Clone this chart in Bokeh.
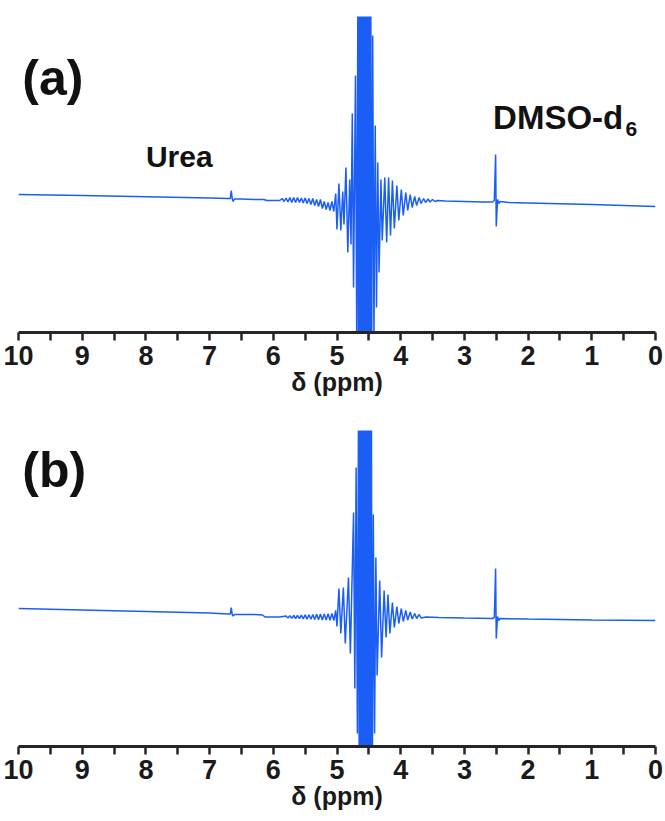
from bokeh.plotting import figure
from bokeh.models import Range1d, FixedTicker, Label
from bokeh.layouts import column
from bokeh.embed import file_html
from bokeh.resources import INLINE

# ---------------- data (chemical shift in ppm, intensity in arbitrary units) ----------------
major_ticks = [0, 1, 2, 3, 4, 5, 6, 7, 8, 9, 10]
minor_ticks = [0.5, 1.5, 2.5, 3.5, 4.5, 5.5, 6.5, 7.5, 8.5, 9.5]
x_title = "δ (ppm)"

ppm_a = [10.0, 9.0, 8.0, 7.0, 6.72, 6.675, 6.66, 6.645, 6.63, 6.61, 6.5, 6.3, 6.15, 6.1, 5.95,
         5.90, 5.86, 5.83, 5.80, 5.77, 5.74, 5.71, 5.68, 5.65, 5.62,
         5.59, 5.56, 5.53, 5.50, 5.47, 5.44, 5.41, 5.38, 5.35, 5.32,
         5.29, 5.26, 5.23, 5.20, 5.17, 5.14, 5.11, 5.08, 5.05, 5.02,
         5.00, 4.97, 4.94, 4.91, 4.89, 4.86, 4.83, 4.80, 4.78, 4.76,
         4.74, 4.71, 4.69,
         4.67, 4.66, 4.65, 4.64, 4.63, 4.62, 4.61, 4.60, 4.59, 4.58, 4.57,
         4.56, 4.55, 4.54, 4.53, 4.52, 4.51, 4.50, 4.49, 4.48, 4.47, 4.46,
         4.44, 4.42, 4.40, 4.38, 4.36, 4.34, 4.31, 4.29, 4.25, 4.22,
         4.19, 4.16, 4.13, 4.10, 4.06, 4.03, 3.99, 3.96, 3.92, 3.89,
         3.85, 3.82, 3.78, 3.75, 3.71, 3.68, 3.64, 3.61, 3.57, 3.54,
         3.50, 3.46, 3.42,
         3.3, 3.0, 2.7, 2.56, 2.53, 2.51, 2.50, 2.48, 2.46, 2.44, 2.3, 2.0, 1.0, 0.0]
int_a = [5, 4, 2.8, 1.5, 1, 1, 9, 1, -2, 0.5, 0.5, 0, 0, -1, -1,
         -1, 1, -2, 1.5, -2.5, 2, -3, 2, -3, 2,
         -3, 1.5, -3.5, 1.5, -4, 1, -5, 1, -6, 0,
         -7, 0, -9, -2, -10, -3, -11, -2, -12, 6,
         -30, 16, -31, 8, -25, 32, -53, 20, -45, 86,
         -88, 124, -140,
         250, -250, 250, -250, 250, -250, 250, -250, 250, -250, 250,
         -250, 250, -250, 250, -250, 250, -250, 250, -250, 250, -250,
         164, -140, 74, -108, 37, -73, 20, -41, 22, -43,
         22, -36, 19, -29, 14, -21, 10, -16, 7, -11,
         5, -8, 3, -6, 2, -4, 1, -3, 0.5, -2.5,
         0, -2, -1,
         -1.5, -2, -2.5, -2.5, -1, 45, -27, 0, -4, -2, -3, -3.5, -5, -7]

ppm_b = [10.0, 9.0, 8.0, 7.0, 6.72, 6.675, 6.66, 6.645, 6.63, 6.61, 6.3, 6.17, 6.13, 5.9,
         5.80, 5.77, 5.74, 5.71, 5.68, 5.65, 5.62, 5.59, 5.56, 5.53,
         5.50, 5.47, 5.44, 5.41, 5.38, 5.35, 5.32, 5.29, 5.26, 5.23,
         5.20, 5.17, 5.14, 5.11, 5.08, 5.05,
         5.02, 5.00, 4.97, 4.94, 4.90, 4.87, 4.82, 4.79, 4.74, 4.72, 4.70, 4.68,
         4.66, 4.65, 4.64, 4.63, 4.62, 4.61, 4.60, 4.59, 4.58, 4.57, 4.56,
         4.55, 4.54, 4.53, 4.52, 4.51, 4.50, 4.49, 4.48, 4.47, 4.46, 4.45,
         4.43, 4.41, 4.39, 4.37, 4.33, 4.30, 4.26, 4.23, 4.20, 4.17,
         4.13, 4.10, 4.06, 4.03, 3.99, 3.96, 3.92, 3.89, 3.85, 3.82,
         3.78, 3.75, 3.71, 3.68,
         3.6, 3.4, 3.0, 2.56, 2.53, 2.51, 2.50, 2.48, 2.46, 2.44, 2.0, 1.0, 0.0]
int_b = [6, 4.5, 3, 1.5, 0.5, 0.5, 7, 0, -1.5, 0, 0, -0.5, -2.5, -2.5,
         -1.5, -3.5, -1.2, -3.8, -1, -4, -0.8, -4.2, -0.6, -4.4,
         -0.4, -4.6, -0.2, -4.8, 0, -5, 0.2, -5.2, 0.4, -5.4,
         0.6, -5.6, 0.8, -5.8, 1, -6,
         4, -12, 26, -19, 27, -29, 37, -39, 102, -74, 147, -119,
         250, -250, 250, -250, 250, -250, 250, -250, 250, -250, 250,
         -250, 250, -250, 250, -250, 250, -250, 250, -250, 250, -250,
         100, -119, 57, -61, 34, -43, 24, -23, 20, -19,
         12, -13, 8, -9, 6, -7, 4, -5.5, 2.5, -4.5,
         1, -4, 0, -3.5,
         -2.5, -3, -3.5, -4, -3, 46, -24, -2, -6, -4, -4.5, -5.5, -6]

LINE = "#1a5ef5"
AXIS = "#262626"
SANS = "Liberation Sans"


def panel(ppm, inten, y_lo, y_hi, border_bottom, tag, tag_y, show_names):
    p = figure(frame_width=637, frame_height=316, output_backend="svg", toolbar_location=None,
               x_range=Range1d(10, 0), y_range=Range1d(y_lo, y_hi), y_axis_location=None,
               min_border_left=18, min_border_right=10, min_border_top=16,
               min_border_bottom=border_bottom)
    p.outline_line_color = None
    p.xgrid.visible = False
    p.ygrid.visible = False
    p.background_fill_color = "white"
    p.border_fill_color = "white"

    p.line(ppm, inten, line_color=LINE, line_width=1.5)

    ax = p.xaxis[0]
    ax.ticker = FixedTicker(ticks=major_ticks, minor_ticks=minor_ticks)
    ax.axis_line_width = 3
    ax.axis_line_color = AXIS
    ax.major_tick_line_width = 2.5
    ax.minor_tick_line_width = 2.5
    ax.major_tick_line_color = AXIS
    ax.minor_tick_line_color = AXIS
    ax.major_tick_in = 0
    ax.major_tick_out = 8
    ax.minor_tick_in = 0
    ax.minor_tick_out = 8
    ax.major_label_text_font = SANS
    ax.major_label_text_font_style = "bold"
    ax.major_label_text_font_size = "27px"
    ax.major_label_text_color = "#1a1a1a"
    ax.major_label_standoff = 5
    ax.axis_label = x_title
    ax.axis_label_text_font = SANS
    ax.axis_label_text_font_style = "bold"
    ax.axis_label_text_font_size = "25px"
    ax.axis_label_text_color = "#1a1a1a"
    ax.axis_label_standoff = 0

    # panel tag
    p.add_layout(Label(x=9.94, y=tag_y, text=tag, text_font=SANS, text_font_style="bold",
                       text_font_size="50px", text_color="#111111",
                       text_align="left", text_baseline="middle"))

    if show_names:
        p.add_layout(Label(x=8.0, y=43, text="Urea", text_font=SANS, text_font_style="bold",
                           text_font_size="30px", text_color="#111111",
                           text_align="left", text_baseline="alphabetic"))
        p.add_layout(Label(x=2.55, y=82, text="DMSO-d", text_font=SANS, text_font_style="bold",
                           text_font_size="33px", text_color="#111111",
                           text_align="left", text_baseline="alphabetic"))
        p.add_layout(Label(x=0.47, y=71, text="6", text_font=SANS, text_font_style="bold",
                           text_font_size="21px", text_color="#111111",
                           text_align="left", text_baseline="alphabetic"))
    return p


pa = panel(ppm_a, int_a, -133, 183, 82, "(a)", 122, True)
pb = panel(ppm_b, int_b, -132, 184, 75, "(b)", 145, False)

layout = column(pa, pb, spacing=0)

open("out.html", "w").write(file_html(layout, INLINE))
